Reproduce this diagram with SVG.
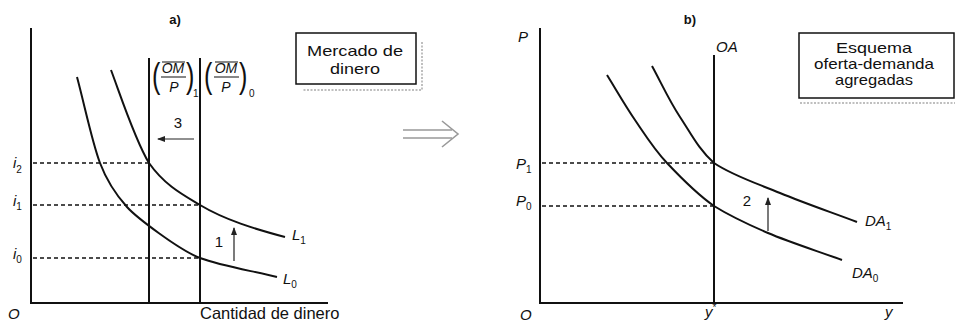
<svg xmlns="http://www.w3.org/2000/svg" width="956" height="327" viewBox="0 0 956 327">
<style>
text{font-family:"Liberation Sans",Arial,sans-serif;fill:#111}
.it{font-style:italic;font-size:15px}
.sub{font-size:10px;font-style:normal}
.num{font-size:15px}
.box{font-size:15px}
.ttl{font-size:13px;font-weight:bold}
.ax{stroke:#111;stroke-width:2;fill:none}
.cv{stroke:#111;stroke-width:2;fill:none}
.ds{stroke:#111;stroke-width:1.3;stroke-dasharray:4 3;fill:none}
.ar{stroke:#222;stroke-width:1.2;fill:none}
.sh{stroke:#aaa;stroke-width:1.5;stroke-dasharray:2 1.5;fill:none}
.rect{stroke:#111;stroke-width:1.5;fill:#fff}
</style>
<defs>
<marker id="ah" markerUnits="userSpaceOnUse" markerWidth="8" markerHeight="6" refX="7" refY="3" orient="auto">
<path d="M0,0 L8,3 L0,6 z" fill="#222"/>
</marker>
</defs>
<rect width="956" height="327" fill="#fff"/>

<g id="panel-a-title"><text class="ttl" x="175" y="24" text-anchor="middle">a)</text></g>
<g id="panel-b-title"><text class="ttl" x="690" y="24" text-anchor="middle">b)</text></g>

<g id="connectors">
<path class="ax" d="M31,28 V303 H328"/>
<path class="ax" d="M149,58 V303"/>
<path class="ax" d="M200,58 V303"/>
<path class="ds" d="M33,163 H149"/>
<path class="ds" d="M33,205 H200"/>
<path class="ds" d="M33,258 H200"/>
<path class="ax" d="M540,28 V303 H903"/>
<path class="ax" d="M714,55 V303"/>
<path class="ds" d="M542,163 H714"/>
<path class="ds" d="M542,206 H714"/>
<path class="ar" d="M194,139 H158" marker-end="url(#ah)"/>
<path class="ar" d="M234,261 V228" marker-end="url(#ah)"/>
<path class="ar" d="M768,231 V198" marker-end="url(#ah)"/>
<g stroke="#999" stroke-width="1.6" fill="none">
<path d="M403,130 H452"/>
<path d="M403,138 H452"/>
<path d="M442,121 L458,134 L442,147"/>
</g>
</g>

<g id="L0">
<path class="cv" d="M77,77 C84.7,105.7 92,141.7 100,163 C108,184.3 118,197 127,207 C136,217 179,250 200,258 C221.2,265.8 251.3,270.7 277,277"/>
<text class="it" x="283" y="284">L<tspan class="sub" dy="4">0</tspan></text>
</g>
<g id="L1">
<path class="cv" d="M111,70 C121,96.7 135.2,140.5 149,163 C164.8,185.5 183.3,195 200,205 C225,220 255,229 285,237"/>
<text class="it" x="292" y="240">L<tspan class="sub" dy="4">1</tspan></text>
</g>

<g id="OMP1">
<text transform="translate(152,88) scale(0.7,1)" style="font-size:36px">(</text>
<text class="it" style="font-size:14px" x="173" y="73" text-anchor="middle">OM</text>
<path d="M162,62 H185 M161,77 H186" stroke="#111" stroke-width="1.2"/>
<text class="it" style="font-size:14px" x="174" y="92" text-anchor="middle">P</text>
<text transform="translate(186,88) scale(0.7,1)" style="font-size:36px">)</text>
<text style="font-size:10px" x="193" y="97">1</text>
</g>
<g id="OMP0">
<text transform="translate(204,88) scale(0.7,1)" style="font-size:36px">(</text>
<text class="it" style="font-size:14px" x="226" y="73" text-anchor="middle">OM</text>
<path d="M215,62 H238 M214,77 H239" stroke="#111" stroke-width="1.2"/>
<text class="it" style="font-size:14px" x="226" y="92" text-anchor="middle">P</text>
<text transform="translate(239,88) scale(0.7,1)" style="font-size:36px">)</text>
<text style="font-size:10px" x="249" y="97">0</text>
</g>

<g id="axis-labels-a">
<text class="it" x="13" y="168">i<tspan class="sub" dy="5">2</tspan></text>
<text class="it" x="13" y="206">i<tspan class="sub" dy="4">1</tspan></text>
<text class="it" x="13" y="259">i<tspan class="sub" dy="4">0</tspan></text>
<text class="it" x="8" y="319">O</text>
<text x="200" y="319" style="font-size:16.5px">Cantidad de dinero</text>
<text class="num" x="178" y="128" text-anchor="middle">3</text>
<text class="num" x="219" y="247" text-anchor="middle">1</text>
</g>

<g id="box-mercado">
<path class="sh" d="M422,42 V90 H303"/>
<rect class="rect" x="296" y="33" width="120" height="51"/>
<text class="box" x="355" y="56" text-anchor="middle" textLength="96" lengthAdjust="spacingAndGlyphs">Mercado de</text>
<text class="box" x="355" y="74" text-anchor="middle" textLength="50" lengthAdjust="spacingAndGlyphs">dinero</text>
</g>

<g id="DA0">
<path class="cv" d="M607,75 C616.3,90 625,105.3 635,120 C645,134.7 653.5,148.7 667,163 C680.5,177.3 697.2,194.3 714,206 C732.8,217.7 747,224 768,233 C789,242 817.3,251 842,260"/>
<text class="it" x="852" y="278">DA<tspan class="sub" dy="4">0</tspan></text>
</g>
<g id="DA1">
<path class="cv" d="M652,66 C661.3,83 669.3,100.8 680,117 C690.7,133.2 699.3,150.3 714,163 C732.7,175.7 756.5,183.2 780,193 C803.5,202.8 831.3,212.3 857,222"/>
<text class="it" x="865" y="226">DA<tspan class="sub" dy="4">1</tspan></text>
</g>

<g id="axis-labels-b">
<text class="it" x="518" y="42">P</text>
<text class="it" x="716" y="52">OA</text>
<text class="it" x="516" y="169">P<tspan class="sub" dy="4">1</tspan></text>
<text class="it" x="516" y="206">P<tspan class="sub" dy="4">0</tspan></text>
<text class="it" x="520" y="320">O</text>
<text class="it" x="705" y="317">y<tspan class="sub" dy="-6">*</tspan></text>
<text class="it" x="885" y="317">y</text>
<text class="num" x="747" y="206" text-anchor="middle">2</text>
</g>

<g id="box-esquema">
<path class="sh" d="M800,103 H955"/>
<rect class="rect" x="799" y="33" width="155" height="65"/>
<text class="box" style="font-size:14.5px" x="874" y="53" text-anchor="middle" textLength="76" lengthAdjust="spacingAndGlyphs">Esquema</text>
<text class="box" style="font-size:14.5px" x="874" y="69" text-anchor="middle" textLength="120" lengthAdjust="spacingAndGlyphs">oferta-demanda</text>
<text class="box" style="font-size:14.5px" x="874" y="85" text-anchor="middle" textLength="78" lengthAdjust="spacingAndGlyphs">agregadas</text>
</g>
</svg>
